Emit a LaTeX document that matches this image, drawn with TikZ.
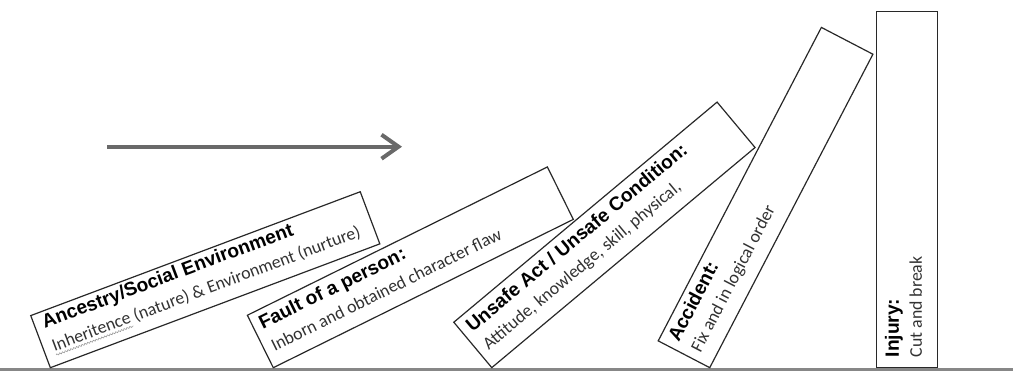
\documentclass[tikz,border=0pt]{standalone}
\usepackage{fontspec}
\setmainfont{Carlito}
\newfontfamily\headfont{Liberation Sans}
\usetikzlibrary{arrows.meta,decorations.pathmorphing}
\definecolor{arrowgrey}{RGB}{105,105,105}
\definecolor{groundgrey}{RGB}{135,135,135}
\definecolor{edgegrey}{RGB}{40,40,40}
\definecolor{bodygrey}{RGB}{50,50,50}
\begin{document}
\begin{tikzpicture}[x=1pt,y=1pt,
  domino/.style={rectangle, draw=edgegrey, line width=1.2pt, inner sep=0pt, anchor=south west},
  head/.style={anchor=base west, inner sep=0pt, text=black,
    font=\headfont\bfseries\fontsize{19.2}{22}\selectfont},
  body/.style={anchor=base west, inner sep=0pt, text=bodygrey,
    font=\fontsize{17.8}{20}\selectfont},
  squiggle/.style={draw=black!40, line width=0.6pt,
    decorate, decoration={snake, amplitude=0.8pt, segment length=3pt}},
  flow/.style={draw=arrowgrey, line width=4pt,
    -{Straight Barb[length=17pt, width=24pt]}},
  ground/.style={draw=groundgrey, line width=2.4pt}]
\useasboundingbox (0,0) rectangle (1013,371);

% floor
\coordinate (floorL) at (0,1.3);
\coordinate (floorR) at (1013,1.3);
\draw[ground] (floorL) -- (floorR);

% direction of the chain reaction
\coordinate (flowA) at (107,224.3);
\coordinate (flowB) at (402,224.3);
\draw[flow] (flowA) -- (flowB);

% 1st domino
\begin{scope}[shift={(50,2.5)}, rotate=20.6, transform shape]
  \node[domino, minimum width=352pt, minimum height=55.7pt] (d1) at (0,0) {};
  \node[head] (d1h) at (9,39) {Ancestry/Social Environment};
  \node[body] (d1b) at (10,14) {Inheritence (nature) \& Environment (nurture)};
  \draw[squiggle] (10.5,10.5) -- (93,10.5);
\end{scope}

% 2nd domino
\begin{scope}[shift={(273,2.5)}, rotate=26.3, transform shape]
  \node[domino, minimum width=334.7pt, minimum height=58.5pt] (d2) at (0,0) {};
  \node[head] (d2h) at (8,39.5) {Fault of a person:};
  \node[body] (d2b) at (9,14.5) {Inborn and obtained character flaw};
\end{scope}

% 3rd domino
\begin{scope}[shift={(491.7,2.5)}, rotate=39.9, transform shape]
  \node[domino, minimum width=343.2pt, minimum height=59.2pt] (d3) at (0,0) {};
  \node[head] (d3h) at (8,39.5) {Unsafe Act / Unsafe Condition:};
  \node[body] (d3b) at (9,15.5) {Attitude, knowledge, skill, physical,};
\end{scope}

% 4th domino
\begin{scope}[shift={(710,2.5)}, rotate=62.5, transform shape]
  \node[domino, minimum width=353.4pt, minimum height=58.1pt] (d4) at (0,0) {};
  \node[head] (d4h) at (8,39.5) {Accident:};
  \node[body] (d4b) at (9,15.5) {Fix and in logical order};
\end{scope}

% 5th domino, still standing
\begin{scope}[shift={(938.3,2.5)}, rotate=90, transform shape]
  \node[domino, minimum width=356.3pt, minimum height=61pt] (d5) at (0,0) {};
  \node[head] (d5h) at (11,39.5) {Injury:};
  \node[body] (d5b) at (11,16.5) {Cut and break};
\end{scope}
\end{tikzpicture}
\end{document}
